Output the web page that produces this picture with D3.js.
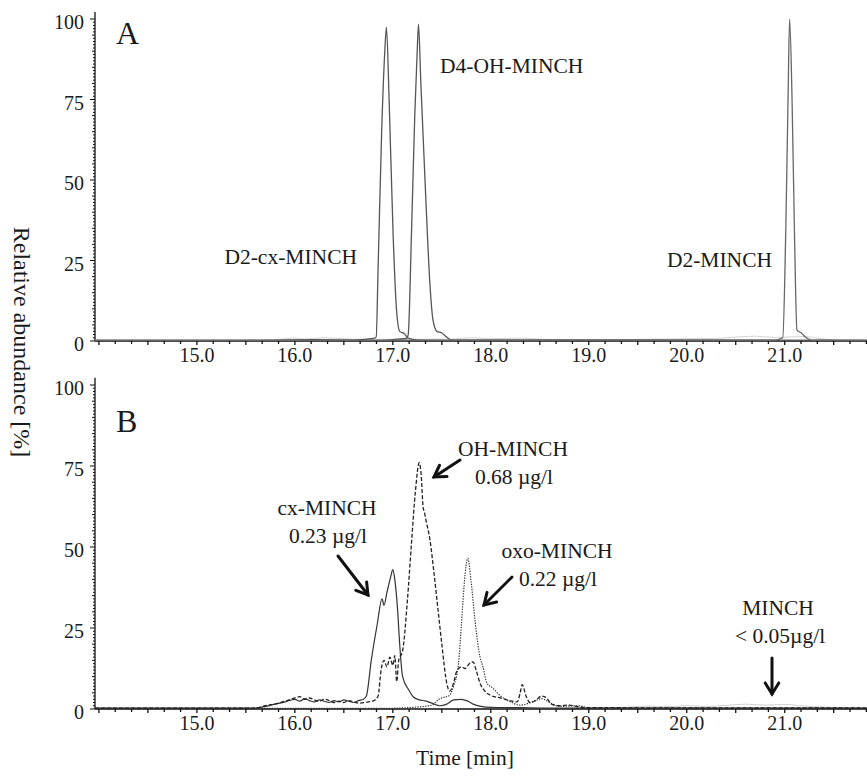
<!DOCTYPE html>
<html><head><meta charset="utf-8">
<script src="https://cdn.jsdelivr.net/npm/d3@7"></script>
<style>
body{margin:0;background:#fff}
text{font-family:"Liberation Serif","Times New Roman",serif;fill:#1a1a1a}
</style>
</head><body>
<svg id="chart" width="867" height="776"></svg>
<script>
// ---------- DATA ----------
const xTickValues = [15, 16, 17, 18, 19, 20, 21];
const xTickLabels = ["15.0", "16.0", "17.0", "18.0", "19.0", "20.0", "21.0"];
const yTickValues = [0, 25, 50, 75, 100];
const yTickLabels = ["0", "25", "50", "75", "100"];

// Panel A (internal standards) [time min, relative abundance %]
const seriesA_D2cx = [[13.96,0.2],[15.5,0.2],[16.2,0.4],[16.6,0.3],[16.73,0.6],[16.8,0.8],[16.83,1.2],[16.85,23],[16.885,64],[16.918,90],[16.935,97.5],[16.962,75],[17.003,33],[17.037,10],[17.07,3],[17.12,2.2],[17.15,1],[17.25,0.3],[17.6,0.2],[21.84,0.2]];
const seriesA_D4OH = [[13.96,0.2],[16.9,0.2],[17.0,0.4],[17.1,0.7],[17.14,0.8],[17.157,2],[17.19,33],[17.224,70],[17.25,91],[17.262,98.4],[17.286,80],[17.337,44],[17.378,18],[17.41,6.5],[17.45,3],[17.5,2.5],[17.55,1.2],[17.6,0.3],[21.84,0.2]];
const seriesA_D2 = [[13.96,0.2],[20.9,0.3],[20.98,1],[21.01,33],[21.034,75],[21.05,100],[21.075,75],[21.1,33],[21.125,3.4],[21.17,2.5],[21.22,1],[21.27,0.3],[21.84,0.2]];
const seriesA_faint = [[15.8,0.3],[16.0,0.9],[16.1,0.6],[16.3,1.0],[16.5,0.7],[16.7,0.5],[17.6,0.6],[17.8,1.0],[18.0,0.7],[18.3,0.9],[18.5,0.6],[18.8,0.4],[19.5,0.5],[20.0,0.7],[20.3,0.8],[20.5,1.2],[20.7,1.5],[20.9,1.1],[21.2,1.4],[21.35,0.8],[21.5,0.3]];

// Panel B (urine sample)
const seriesB_cx = [[13.96,0.3],[15.6,0.3],[15.7,0.8],[15.8,1.5],[15.9,2.2],[16.0,3.0],[16.05,2.4],[16.1,3.2],[16.15,2.6],[16.2,2.2],[16.25,2.8],[16.3,2.4],[16.35,2.0],[16.4,2.6],[16.45,2.2],[16.5,2.8],[16.55,2.4],[16.6,2.0],[16.65,2.6],[16.7,3.0],[16.73,4],[16.78,15],[16.84,26],[16.89,34],[16.91,32],[16.94,36],[16.98,41],[17.0,43],[17.02,40],[17.05,30],[17.07,20],[17.1,10],[17.16,6],[17.21,3.7],[17.27,2.8],[17.33,2.5],[17.4,1.8],[17.48,1],[17.55,1.5],[17.62,2.8],[17.7,3],[17.76,2.5],[17.82,1.5],[17.9,0.8],[18.0,0.5],[18.3,0.4],[18.6,0.3],[21.84,0.3]];
const seriesB_OH = [[13.96,0.3],[15.6,0.3],[15.7,1.0],[15.8,1.6],[15.9,2.4],[16.0,3.4],[16.05,3.8],[16.1,3.0],[16.15,3.4],[16.2,2.8],[16.25,2.4],[16.3,3.0],[16.35,2.6],[16.4,2.0],[16.45,2.4],[16.5,2.0],[16.55,2.6],[16.6,2.2],[16.65,1.8],[16.7,2.0],[16.75,2.2],[16.8,2.5],[16.85,4],[16.88,12],[16.91,15],[16.94,13],[16.97,16],[17.0,13.5],[17.02,16.5],[17.04,8.5],[17.06,15],[17.1,18],[17.15,34],[17.19,51],[17.23,67],[17.27,76],[17.29,72],[17.31,62],[17.32,61],[17.34,58],[17.38,52],[17.42,42],[17.46,31],[17.5,20],[17.55,8],[17.58,5.5],[17.62,8],[17.65,11.5],[17.7,13],[17.74,12.5],[17.78,14],[17.82,14.5],[17.85,12],[17.89,8],[17.94,5.5],[18.0,4.2],[18.1,3.4],[18.2,2.5],[18.27,2.2],[18.3,5],[18.32,7.5],[18.36,4],[18.4,2],[18.45,2.5],[18.52,4],[18.57,3.4],[18.62,1.5],[18.7,1.0],[18.8,1.2],[18.9,0.6],[19.0,0.4],[21.84,0.3]];
const seriesB_oxo = [[13.96,0.2],[16.9,0.2],[17.2,0.5],[17.4,1.2],[17.47,3],[17.52,3.6],[17.57,4],[17.62,7],[17.67,14],[17.7,26],[17.73,39],[17.765,46.5],[17.8,39],[17.84,27],[17.89,16],[17.92,13],[17.96,8],[18.02,6.5],[18.1,4],[18.2,2.2],[18.3,1.2],[18.45,2.5],[18.52,3.2],[18.6,2],[18.7,0.8],[18.9,1],[19.0,0.3],[21.84,0.2]];
const seriesB_MINCH = [[19.2,0.3],[19.4,0.6],[19.6,0.9],[19.8,0.7],[20.0,1.0],[20.2,0.8],[20.4,1.1],[20.6,1.5],[20.8,1.2],[21.0,1.4],[21.2,0.9],[21.4,0.6],[21.6,0.3]];

const panelLetters = ["A", "B"];
const labelsA = ["D2-cx-MINCH", "D4-OH-MINCH", "D2-MINCH"];
const labelsB = [["cx-MINCH", "0.23 \u00b5g/l"], ["OH-MINCH", "0.68 \u00b5g/l"], ["oxo-MINCH", "0.22 \u00b5g/l"], ["MINCH", "< 0.05\u00b5g/l"]];
const yTitle = "Relative abundance [%]";
const xTitle = "Time [min]";

// ---------- DRAW ----------
const svg = d3.select("#chart");
svg.append("rect").attr("width", 867).attr("height", 776).attr("fill", "#fff");

const x = d3.scaleLinear().domain([13.96, 21.84]).range([95, 867]);
const yA = d3.scaleLinear().domain([0, 100]).range([341, 19]);
const yB = d3.scaleLinear().domain([0, 100]).range([709, 385]);

function drawAxes(y) {
  const g = svg.append("g");
  const y0 = y(0);
  g.append("line").attr("x1", 95).attr("x2", 867).attr("y1", y0).attr("y2", y0)
    .attr("stroke", "#111").attr("stroke-width", 1.3);
  const minor = d3.range(0, 48).map(k => 14 + k / 6).filter(t => t <= 21.84);
  g.selectAll(".xt").data(minor).enter().append("line")
    .attr("x1", d => x(d)).attr("x2", d => x(d))
    .attr("y1", y0).attr("y2", (d, i) => y0 + (i % 3 === 0 ? 4 : 3))
    .attr("stroke", "#111").attr("stroke-width", 1.3);
  g.selectAll(".xl").data(xTickValues).enter().append("text")
    .attr("x", d => x(d)).attr("y", y0 + 14).attr("text-anchor", "middle")
    .attr("dominant-baseline", "central").attr("font-size", 20)
    .text((d, i) => xTickLabels[i]);
  g.append("line").attr("x1", 95).attr("x2", 95).attr("y1", y(102.2)).attr("y2", y0)
    .attr("stroke", "#111").attr("stroke-width", 1.3);
  const yMinor = d3.range(0, 101);
  g.selectAll(".yt").data(yMinor).enter().append("line")
    .attr("x1", 95).attr("x2", d => 95 - (d % 25 === 0 ? 5 : (d % 5 === 0 ? 3 : 2)))
    .attr("y1", d => y(d)).attr("y2", d => y(d))
    .attr("stroke", "#111").attr("stroke-width", 1);
  g.selectAll(".yl").data(yTickValues).enter().append("text")
    .attr("x", 84).attr("y", d => y(d) + 3).attr("text-anchor", "end")
    .attr("dominant-baseline", "central").attr("font-size", 20)
    .text((d, i) => yTickLabels[i]);
}
drawAxes(yA);
drawAxes(yB);

function drawLine(data, y, color, width, dash) {
  const line = d3.line().x(d => x(d[0])).y(d => y(d[1])).curve(d3.curveMonotoneX);
  const p = svg.append("path").datum(data).attr("d", line)
    .attr("fill", "none").attr("stroke", color).attr("stroke-width", width)
    .attr("stroke-linejoin", "round");
  if (dash) p.attr("stroke-dasharray", dash);
}
drawLine(seriesA_faint, yA, "#d4d4d4", 1);
drawLine(seriesA_D2cx, yA, "#555", 1.3);
drawLine(seriesA_D4OH, yA, "#555", 1.3);
drawLine(seriesA_D2, yA, "#666", 1.3);
drawLine(seriesB_MINCH, yB, "#d0d0d0", 1);
drawLine(seriesB_oxo, yB, "#333", 1.2, "1.3,1.3");
drawLine(seriesB_cx, yB, "#333", 1.2);
drawLine(seriesB_OH, yB, "#222", 1.3, "4,2");

svg.append("text").attr("x", 116).attr("y", 44).attr("font-size", 32).text(panelLetters[0]);
svg.append("text").attr("x", 116).attr("y", 432).attr("font-size", 32).text(panelLetters[1]);

svg.append("text").attr("x", 357).attr("y", 264).attr("text-anchor", "end").attr("font-size", 21.5).text(labelsA[0]);
svg.append("text").attr("x", 440).attr("y", 73).attr("font-size", 21.5).text(labelsA[1]);
svg.append("text").attr("x", 772).attr("y", 267).attr("text-anchor", "end").attr("font-size", 21.5).text(labelsA[2]);

const labelPos = [[327, 515], [513, 456], [557, 558], [778, 615]];
labelsB.forEach((lb, i) => {
  const [cx, by] = labelPos[i];
  svg.append("text").attr("x", cx).attr("y", by).attr("text-anchor", "middle").attr("font-size", 21.5).text(lb[0]);
  svg.append("text").attr("x", cx + (i === 3 ? 2 : 1)).attr("y", by + 28).attr("text-anchor", "middle").attr("font-size", 21.5).text(lb[1]);
});

const arrows = [[338, 556, 368, 595], [460, 460, 434, 477], [512, 577, 484, 605], [772, 658, 772, 694]];
arrows.forEach(([x1, y1, x2, y2]) => {
  const g = svg.append("g").attr("stroke", "#111").attr("stroke-width", 3).attr("fill", "none")
    .attr("stroke-linecap", "round");
  g.append("line").attr("x1", x1).attr("y1", y1).attr("x2", x2).attr("y2", y2);
  const ang = Math.atan2(y1 - y2, x1 - x2);
  const L = 13, a = 0.55;
  g.append("polyline").attr("points", [
    [x2 + L * Math.cos(ang + a), y2 + L * Math.sin(ang + a)],
    [x2, y2],
    [x2 + L * Math.cos(ang - a), y2 + L * Math.sin(ang - a)]
  ].map(p => p.join(",")).join(" ")).attr("stroke-linejoin", "miter");
});

svg.append("text").attr("transform", "translate(22,342) rotate(90)")
  .attr("text-anchor", "middle").attr("dominant-baseline", "central").attr("font-size", 24).text(yTitle);
svg.append("text").attr("x", 465).attr("y", 765).attr("text-anchor", "middle").attr("font-size", 21.5).text(xTitle);
</script>
</body></html>
